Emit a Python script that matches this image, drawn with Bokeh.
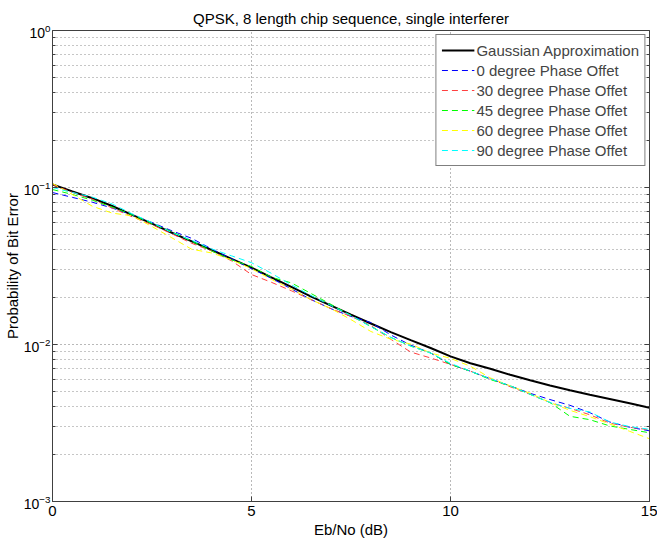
from bokeh.plotting import figure
from bokeh.models import (FixedTicker, Legend, LegendItem, Range1d, LogAxis,
                          CustomJSTickFormatter)
from bokeh.embed import file_html
from bokeh.resources import INLINE

# ---- data ----
ebno_db = [0, 0.5, 1, 1.5, 2, 2.5, 3, 3.5, 4, 4.5, 5, 5.5, 6, 6.5, 7, 7.5,
           8, 8.5, 9, 9.5, 10, 10.5, 11, 11.5, 12, 12.5, 13, 13.5, 14, 14.5, 15]

gaussian_approx = [0.1045, 0.0944, 0.0855, 0.0762, 0.0670, 0.0589, 0.0515, 0.0454,
                   0.0400, 0.0351, 0.0309, 0.0268, 0.0233, 0.0202, 0.0177, 0.0155,
                   0.0136, 0.0120, 0.01067, 0.0095, 0.0084, 0.0076, 0.0070, 0.00641,
                   0.00592, 0.00548, 0.00511, 0.00479, 0.00450, 0.00422, 0.00395]

phase_0 = [0.0929, 0.0865, 0.0806, 0.0740, 0.0670, 0.0598, 0.0530, 0.0474,
           0.0406, 0.0351, 0.0304, 0.0264, 0.0226, 0.0193, 0.0169, 0.0151,
           0.0138, 0.0115, 0.00991, 0.00883, 0.00747, 0.00676, 0.00605, 0.00545,
           0.00489, 0.00446, 0.00410, 0.00368, 0.00321, 0.00297, 0.00282]

phase_30 = [0.1045, 0.0930, 0.0843, 0.0740, 0.0651, 0.0580, 0.0507, 0.0441,
            0.0394, 0.0341, 0.0279, 0.0249, 0.0220, 0.0193, 0.0169, 0.0151,
            0.0132, 0.0108, 0.00895, 0.00821, 0.00747, 0.00676, 0.00605, 0.00538,
            0.00482, 0.00427, 0.00392, 0.00357, 0.00316, 0.00297, 0.00286]

phase_45 = [0.0971, 0.0903, 0.0830, 0.0751, 0.0670, 0.0589, 0.0523, 0.0454,
            0.0394, 0.0346, 0.0314, 0.0268, 0.0247, 0.0211, 0.0180, 0.0153,
            0.0130, 0.0111, 0.00977, 0.00883, 0.00747, 0.00676, 0.00598, 0.00545,
            0.00482, 0.00427, 0.00349, 0.00332, 0.00303, 0.00288, 0.00274]

phase_60 = [0.1061, 0.0903, 0.0760, 0.0687, 0.0660, 0.0564, 0.0478, 0.0404,
            0.0383, 0.0346, 0.0304, 0.0260, 0.0226, 0.0193, 0.0169, 0.0144,
            0.0121, 0.0108, 0.01006, 0.00883, 0.00816, 0.00727, 0.00613, 0.00545,
            0.00489, 0.00427, 0.00381, 0.00347, 0.00312, 0.00280, 0.00251]

phase_90 = [0.1000, 0.0930, 0.0868, 0.0785, 0.0680, 0.0598, 0.0515, 0.0461,
            0.0406, 0.0367, 0.0332, 0.0284, 0.0240, 0.0205, 0.0177, 0.0153,
            0.0130, 0.0111, 0.00977, 0.00883, 0.00758, 0.00676, 0.00605, 0.00545,
            0.00482, 0.00427, 0.00392, 0.00372, 0.00321, 0.00300, 0.00288]

series_labels = ["Gaussian Approximation", "0 degree Phase Offet", "30 degree Phase Offet",
                 "45 degree Phase Offet", "60 degree Phase Offet", "90 degree Phase Offet"]
x_ticks = [0, 5, 10, 15]
y_ticks = [1e-3, 1e-2, 1e-1, 1e0]
y_minor = [m * 10.0 ** e for e in (-3, -2, -1) for m in range(2, 10)]

FONT = "Liberation Sans"
FS = "15px"
AXC = "#404040"

p = figure(width=657, height=543, y_axis_type="log",
           x_range=Range1d(0, 15), y_range=Range1d(1e-3, 1),
           output_backend="svg", toolbar_location=None,
           min_border_left=52, min_border_right=8,
           min_border_top=30, min_border_bottom=42,
           title="QPSK, 8 length chip sequence, single interferer")

p.title.text_font = FONT
p.title.text_font_size = FS
p.title.text_font_style = "normal"
p.title.align = "center"
p.title.text_color = "black"
p.title.standoff = 7

p.outline_line_color = AXC
p.outline_line_width = 1
p.background_fill_color = "white"
p.border_fill_color = "white"

xt = FixedTicker(ticks=x_ticks)
yt = FixedTicker(ticks=y_ticks, minor_ticks=y_minor)
p.xaxis.ticker = xt
p.yaxis.ticker = yt


def style_axis(ax):
    ax.axis_line_color = AXC
    ax.major_tick_line_color = AXC
    ax.minor_tick_line_color = AXC
    ax.major_tick_in = 5
    ax.major_tick_out = 0
    ax.minor_tick_in = 3
    ax.minor_tick_out = 0
    ax.major_label_text_font = FONT
    ax.major_label_text_font_size = FS
    ax.major_label_text_color = "black"
    ax.axis_label_text_font = FONT
    ax.axis_label_text_font_size = FS
    ax.axis_label_text_font_style = "normal"
    ax.axis_label_text_color = "black"


style_axis(p.xaxis[0])
style_axis(p.yaxis[0])
p.xaxis.minor_tick_line_color = None
p.xaxis.major_label_standoff = 4
p.xaxis.axis_label_standoff = 2
p.yaxis.major_label_text_font_size = "14px"
p.yaxis.major_label_standoff = 2
p.yaxis.axis_label_standoff = 0
p.xaxis.axis_label = "Eb/No (dB)"
p.yaxis.axis_label = "Probability of Bit Error"

# tick marks on the right edge (box), no labels
blank = CustomJSTickFormatter(code="return ''")
right_ax = LogAxis(ticker=yt, formatter=blank, major_label_standoff=0)
style_axis(right_ax)
right_ax.major_label_text_font_size = "1px"
p.add_layout(right_ax, "right")

# grids
p.xgrid.ticker = xt
p.ygrid.ticker = yt
for g in (p.xgrid[0], p.ygrid[0]):
    g.grid_line_color = "black"
    g.grid_line_alpha = 0.55
    g.grid_line_dash = "1 3"
    g.grid_line_width = 1
p.ygrid.minor_grid_line_color = "black"
p.ygrid.minor_grid_line_alpha = 0.45
p.ygrid.minor_grid_line_dash = "1 3"

# lines
r0 = p.line(ebno_db, gaussian_approx, line_color="black", line_width=2)
styles = [(phase_0, "#0000FF"), (phase_30, "#FF4040"), (phase_45, "#00FF00"),
          (phase_60, "#FFFF00"), (phase_90, "#00FFFF")]
rends = [r0]
for vals, col in styles:
    rends.append(p.line(ebno_db, vals, line_color=col, line_width=1, line_dash="6 4"))

legend = Legend(items=[LegendItem(label=lab, renderers=[r]) for lab, r in zip(series_labels, rends)],
                location="top_right")
legend.margin = 4
legend.padding = 5
legend.spacing = 0
legend.glyph_width = 33
legend.glyph_height = 20
legend.label_height = 20
legend.label_standoff = 2
legend.label_text_font = FONT
legend.label_text_font_size = FS
legend.border_line_color = "black"
legend.border_line_width = 1
legend.background_fill_color = "white"
legend.background_fill_alpha = 1.0
p.add_layout(legend)

open("out.html", "w").write(file_html(p, INLINE))
